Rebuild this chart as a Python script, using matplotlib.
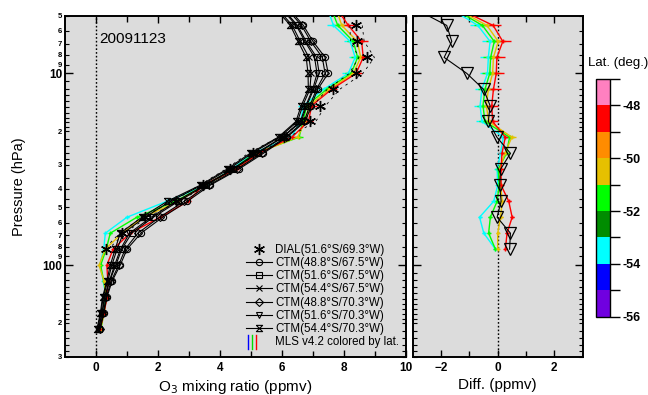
import matplotlib
matplotlib.use('Agg')
import matplotlib.pyplot as plt
from matplotlib.path import Path
from matplotlib.lines import Line2D
from matplotlib.legend_handler import HandlerBase
from matplotlib.colors import ListedColormap, BoundaryNorm
import matplotlib.colorbar as mcolorbar
from matplotlib.ticker import FixedLocator, FuncFormatter

plt.rcParams['font.family'] = ['Liberation Sans', 'DejaVu Sans']

# ---------------- data ----------------
pressure = [4.64, 5.62, 6.81, 8.25, 10.0, 12.1, 14.7, 17.8, 21.5, 26.1, 31.6,
            38.3, 46.4, 56.2, 68.1, 82.5, 100.0, 121.0, 147.0, 178.0, 215.0]
dial_pressure = [5.62, 6.81, 8.25, 10.0, 12.1, 14.7, 17.8, 21.5, 26.1, 31.6,
                 38.3, 46.4, 56.2, 68.1, 82.5]
dial = [8.39, 8.43, 8.73, 8.39, 7.66, 7.21, 6.91, 6.05, 5.06, 4.31, 3.45, 2.59,
        1.57, 0.84, 0.33]
dial_err = [0.20, 0.22, 0.25, 0.22, 0.20, 0.20, 0.18, 0.16, 0.15, 0.13, 0.12,
            0.10, 0.09, 0.08, 0.07]

ctm_488_675 = [6.24, 6.69, 7.00, 7.39, 7.49, 7.15, 6.95, 6.75, 6.16, 5.40, 4.60,
               3.68, 2.95, 2.15, 1.45, 1.00, 0.78, 0.52, 0.35, 0.25, 0.14]
ctm_516_675 = [6.05, 6.50, 6.78, 7.12, 7.20, 7.02, 6.80, 6.62, 6.03, 5.21, 4.43,
               3.54, 2.66, 1.85, 1.15, 0.83, 0.64, 0.44, 0.29, 0.20, 0.09]
ctm_544_675 = [5.88, 6.33, 6.59, 6.87, 6.94, 6.90, 6.67, 6.50, 5.92, 5.03, 4.28,
               3.41, 2.40, 1.58, 0.88, 0.68, 0.51, 0.38, 0.23, 0.16, 0.05]
ctm_488_703 = [6.18, 6.63, 6.93, 7.30, 7.39, 7.11, 6.90, 6.71, 6.12, 5.34, 4.54,
               3.63, 2.85, 2.05, 1.35, 0.94, 0.73, 0.49, 0.33, 0.23, 0.12]
ctm_516_703 = [6.01, 6.46, 6.74, 7.05, 7.13, 6.99, 6.77, 6.59, 6.01, 5.16, 4.39,
               3.50, 2.59, 1.78, 1.08, 0.79, 0.60, 0.43, 0.27, 0.19, 0.08]
ctm_544_703 = [5.82, 6.27, 6.52, 6.78, 6.84, 6.85, 6.62, 6.45, 5.88, 4.97, 4.22,
               3.36, 2.30, 1.48, 0.78, 0.62, 0.46, 0.35, 0.21, 0.14, 0.03]
ctm_labels = ['CTM(48.8°S/67.5°W)', 'CTM(51.6°S/67.5°W)', 'CTM(54.4°S/67.5°W)',
              'CTM(48.8°S/70.3°W)', 'CTM(51.6°S/70.3°W)', 'CTM(54.4°S/70.3°W)']
dial_label = 'DIAL(51.6°S/69.3°W)'
mls_label = 'MLS v4.2 colored by lat.'

mls_lats = [-53.5, -51.5, -50.5, -48.5]
mls_cyan = [7.48, 7.66, 8.20, 8.36, 8.14, 7.34, 6.69, 6.60, 6.30, 5.05, 4.38,
            3.55, 2.29, 1.00, 0.30, 0.25, 0.12, 0.24, 0.32, 0.24, 0.15]
mls_green = [7.60, 7.80, 8.30, 8.44, 8.23, 7.44, 6.80, 6.68, 6.55, 5.12, 4.42,
             3.52, 2.56, 1.32, 0.46, 0.33, 0.15, 0.25, 0.33, 0.25, 0.16]
mls_gold = [7.75, 7.93, 8.43, 8.54, 8.30, 7.53, 6.88, 6.75, 6.50, 5.18, 4.47,
            3.50, 2.66, 1.53, 0.84, 0.30, 0.10, 0.26, 0.34, 0.26, 0.15]
mls_red = [7.79, 8.14, 8.57, 8.62, 8.39, 7.60, 6.96, 6.85, 6.32, 5.25, 4.52,
           3.45, 2.98, 2.07, 1.10, 0.55, 0.35, 0.38, 0.36, 0.25, 0.13]
mls_err = [0.22, 0.20, 0.20, 0.20, 0.20, 0.18, 0.16, 0.14, 0.12, 0.10, 0.09,
           0.08, 0.07, 0.06, 0.05, 0.05, 0.04, 0.04, 0.03, 0.03, 0.03]

diff_pressure = [4.64, 5.62, 6.81, 8.25, 10.0, 12.1, 14.7, 17.8, 21.5, 26.1,
                 31.6, 38.3, 46.4, 56.2, 68.1, 82.5]
diff_ctm = [-2.87, -1.80, -1.62, -1.89, -1.09, -0.50, -0.27, -0.33, -0.03, 0.45,
            0.10, 0.07, 0.12, -0.02, 0.45, 0.42]
diff_cyan = [-1.62, -0.70, -0.27, -0.33, -0.36, -0.56, -0.62, -0.56, 0.20, 0.10,
             -0.02, 0.00, -0.14, -0.64, -0.49, -0.08]
diff_green = [-1.50, -0.54, -0.12, -0.25, -0.28, -0.45, -0.52, -0.45, 0.42, 0.31,
              0.02, 0.05, -0.02, -0.26, -0.32, -0.08]
diff_gold = [-1.42, -0.38, 0.02, -0.15, -0.18, -0.33, -0.40, -0.32, 0.50, 0.25,
             0.08, 0.10, 0.16, 0.10, 0.00, 0.00]
diff_red = [-1.33, -0.16, 0.18, -0.03, -0.05, -0.15, -0.21, -0.18, 0.27, 0.15,
            0.12, 0.12, 0.39, 0.51, 0.33, 0.27]
diff_err = [0.30, 0.28, 0.28, 0.28, 0.28, 0.25, 0.22, 0.20, 0.16, 0.13, 0.11,
            0.10, 0.08, 0.07, 0.06, 0.05]

lat_bounds = [-56, -55, -54, -53, -52, -51, -50, -49, -48, -47]
lat_colors = ['#7000e0', '#0000ff', '#00ffff', '#008c00', '#00ff00',
              '#e6c000', '#ff8c00', '#ff0000', '#ff80c0']
date_text = '20091123'

# ---------------- helpers ----------------
hourglass = Path([(-1, 1), (1, 1), (-1, -1), (1, -1), (-1, 1)],
                 [Path.MOVETO, Path.LINETO, Path.LINETO, Path.LINETO, Path.LINETO])
ctm_markers = ['o', 's', 'x', 'D', 'v', hourglass]
ctm_ms = [4.5, 4.0, 4.5, 4.0, 5.0, 4.5]
asterisk = (6, 2, 0)


def mls_color(lat):
    for i in range(len(lat_bounds) - 1):
        if lat_bounds[i] <= lat < lat_bounds[i + 1]:
            return lat_colors[i]
    return 'k'


class ThreeBars(HandlerBase):
    def create_artists(self, legend, orig_handle, xdescent, ydescent, width,
                       height, fontsize, trans):
        arts = []
        for i, c in enumerate(['#0000ff', '#00dd00', '#ff0000']):
            x = -xdescent + 1 + i * 3.0
            ln = Line2D([x, x], [-ydescent - 0.45 * height, -ydescent + 1.3 * height],
                        color=c, lw=1.0, transform=trans)
            arts.append(ln)
        return arts


def style_y(ax, labels=True):
    ax.set_yscale('log')
    ax.set_ylim(300, 5)
    major = [10, 100]
    lab_minor = [5, 6, 7, 8, 9, 20, 30, 40, 50, 60, 70, 80, 90, 200, 300]
    tiny = [11, 12, 13, 14, 15, 16, 17, 18, 19, 22, 24, 26, 28, 35, 45,
            110, 120, 130, 140, 150, 160, 170, 180, 190, 220, 240, 260, 280]
    ax.yaxis.set_major_locator(FixedLocator(major))
    ax.yaxis.set_minor_locator(FixedLocator(sorted(lab_minor + tiny)))
    if labels:
        ax.yaxis.set_major_formatter(FuncFormatter(lambda v, p: '%d' % round(v)))

        def mf(v, p):
            for m in lab_minor:
                if abs(v - m) < 1e-6:
                    s = '%d' % round(m)
                    return s[0]
            return ''
        ax.yaxis.set_minor_formatter(FuncFormatter(mf))
    else:
        ax.yaxis.set_major_formatter(FuncFormatter(lambda v, p: ''))
        ax.yaxis.set_minor_formatter(FuncFormatter(lambda v, p: ''))
    ax.tick_params(axis='y', which='major', length=6, width=1.0, direction='in',
                   left=True, right=True, labelsize=8.5, pad=2)
    ax.tick_params(axis='y', which='minor', length=3, width=0.8, direction='in',
                   left=True, right=True, labelsize=5.5, pad=2)
    for t in ax.get_yticklabels(which='both'):
        t.set_fontweight('bold')


def style_common(ax):
    ax.set_facecolor('#dcdcdc')
    for s in ax.spines.values():
        s.set_linewidth(1.4)
    ax.tick_params(axis='x', which='both', direction='in', top=True, bottom=True,
                   width=1.0)
    ax.tick_params(axis='x', which='major', length=5, labelsize=8.5, pad=4)
    ax.tick_params(axis='x', which='minor', length=4)


fig = plt.figure(figsize=(6.48, 3.95), dpi=100)
W, H = 648.0, 395.0
ax1 = fig.add_axes([65 / W, 1 - 356.7 / H, 341 / W, 341 / H])
ax2 = fig.add_axes([412.7 / W, 1 - 356.7 / H, 170 / W, 341 / H])
cax = fig.add_axes([595.7 / W, 1 - 316.7 / H, 14.3 / W, 237.7 / H])

# ---------------- left panel ----------------
style_common(ax1)
ax1.axvline(0, color='k', ls=(0, (1.2, 1.5)), lw=1.0, zorder=1)
mls_series = [mls_cyan, mls_green, mls_gold, mls_red]
for lat, vals in zip(mls_lats, mls_series):
    c = mls_color(lat)
    ax1.errorbar(vals, pressure, xerr=mls_err, color=c, lw=1.0, elinewidth=1.0,
                 capsize=0, marker='+', ms=3, zorder=3)
ctm_series = [ctm_488_675, ctm_516_675, ctm_544_675, ctm_488_703, ctm_516_703,
              ctm_544_703]
handles = []
for vals, mk, ms in zip(ctm_series, ctm_markers, ctm_ms):
    ln, = ax1.plot(vals, pressure, color='k', lw=0.8, marker=mk, ms=ms,
                   mfc='none', mec='k', mew=0.8, zorder=4)
    handles.append(ln)
lo = [d - e for d, e in zip(dial, dial_err)]
hi = [d + e for d, e in zip(dial, dial_err)]
ax1.plot(lo, dial_pressure, color='k', lw=0.6, ls=(0, (3, 5)), zorder=5)
ax1.plot(hi, dial_pressure, color='k', lw=0.6, ls=(0, (3, 5)), zorder=5)
hd, = ax1.plot(dial, dial_pressure, ls='none', marker=asterisk, ms=8, mew=1.0,
               color='k', zorder=6)
ax1.set_xlim(-1, 10)
ax1.xaxis.set_major_locator(FixedLocator([0, 2, 4, 6, 8, 10]))
ax1.xaxis.set_minor_locator(FixedLocator([1, 3, 5, 7, 9]))
style_y(ax1, labels=True)
for t in ax1.get_xticklabels():
    t.set_fontweight('bold')
ax1.set_xlabel('O$_3$ mixing ratio (ppmv)', fontsize=11, labelpad=3)
ax1.set_ylabel('Pressure (hPa)', fontsize=10.5, labelpad=12)
ax1.text(0.1, 0.92, date_text, transform=ax1.transAxes, fontsize=11,
         ha='left', va='baseline')

mls_proxy = Line2D([], [], color='k')
leg = ax1.legend([hd] + handles + [mls_proxy], [dial_label] + ctm_labels + [mls_label],
                 loc='lower right', bbox_to_anchor=(1.0, 0.005), frameon=False,
                 fontsize=8.3, handlelength=2.2, handletextpad=0.3,
                 labelspacing=0.1, borderaxespad=0.2,
                 handler_map={mls_proxy: ThreeBars()})

# ---------------- right panel ----------------
style_common(ax2)
ax2.axvline(0, color='k', ls=(0, (1.2, 1.5)), lw=1.0, zorder=1)
diff_series = [diff_cyan, diff_green, diff_gold, diff_red]
for lat, vals in zip(mls_lats, diff_series):
    c = mls_color(lat)
    ax2.errorbar(vals, diff_pressure, xerr=diff_err, color=c, lw=1.0,
                 elinewidth=1.0, capsize=0, marker='+', ms=3, zorder=3)
ax2.plot(diff_ctm, diff_pressure, color='k', lw=0.8, marker='v', ms=8,
         mfc='none', mec='k', mew=0.9, zorder=4)
ax2.set_xlim(-3, 3)
ax2.xaxis.set_major_locator(FixedLocator([-2, 0, 2]))
ax2.xaxis.set_minor_locator(FixedLocator([-1, 1]))
style_y(ax2, labels=False)
for t in ax2.get_xticklabels():
    t.set_fontweight('bold')
ax2.set_xlabel('Diff. (ppmv)', fontsize=11, labelpad=3)

# ---------------- colorbar ----------------
cmap = ListedColormap(lat_colors)
norm = BoundaryNorm(lat_bounds, cmap.N)
cb = mcolorbar.ColorbarBase(cax, cmap=cmap, norm=norm, boundaries=lat_bounds,
                            orientation='vertical')
cb.outline.set_linewidth(1.0)
cb.set_ticks(lat_bounds)
cb.set_ticklabels(['-56', '', '-54', '', '-52', '', '-50', '', '-48', ''])
cax.tick_params(length=7, width=1.0, direction='out', labelsize=9, pad=2)
for t in cax.get_yticklabels():
    t.set_fontweight('bold')
fig.text(588 / W, 1 - 66 / H, 'Lat. (deg.)', fontsize=9.5, ha='left',
         va='baseline')

fig.savefig('out.png', dpi=100)
